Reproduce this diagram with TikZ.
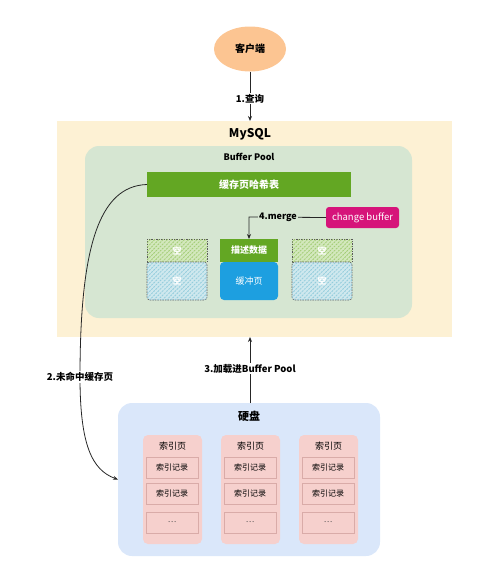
\documentclass[tikz,border=0pt]{standalone}
\usepackage{fontspec}
\setmainfont{Noto Sans CJK SC}
\usetikzlibrary{arrows.meta,patterns,patterns.meta,shapes.geometric}
\definecolor{peach}{HTML}{FCC592}
\definecolor{mysqlbg}{HTML}{FDF1D4}
\definecolor{poolbg}{HTML}{D6E6D2}
\definecolor{dgreen}{HTML}{63A723}
\definecolor{magenta}{HTML}{D6147A}
\definecolor{dblue}{HTML}{1D9FE0}
\definecolor{diskbg}{HTML}{DAE7FA}
\definecolor{pagebg}{HTML}{F6D0CD}
\definecolor{recline}{HTML}{D9ABA8}
\definecolor{hgreen}{HTML}{D3E8BD}
\definecolor{hgreenl}{HTML}{A3CD76}
\definecolor{hblue}{HTML}{CFE8EE}
\definecolor{hbluel}{HTML}{92CCDC}
\tikzset{
  x=1pt,y=-1pt,
  arr/.style={draw=black!85,line width=0.8pt,-{Stealth[length=5pt,width=4pt]}},
  lbl/.style={fill=white,inner sep=1pt,font=\fontsize{9.5}{10}\selectfont\bfseries},
  box/.style={anchor=north west,inner sep=0pt,outer sep=0pt},
  hatchg/.style={box,fill=hgreen,postaction={pattern={Lines[angle=45,distance=3pt,line width=0.9pt]},pattern color=hgreenl},draw=black!65,dash pattern=on 1.5pt off 1pt,line width=0.6pt},
  hatchb/.style={box,fill=hblue,postaction={pattern={Lines[angle=45,distance=3pt,line width=0.9pt]},pattern color=hbluel},draw=black!65,dash pattern=on 1.5pt off 1pt,line width=0.6pt,rounded corners=3pt},
  pagebox/.style={box,fill=pagebg,rounded corners=5pt,minimum width=59pt,minimum height=109pt},
  rec/.style={box,fill=pagebg,draw=recline,line width=0.5pt,minimum width=52pt,minimum height=21pt,font=\fontsize{8}{9}\selectfont},
}
\begin{document}
\begin{tikzpicture}
\useasboundingbox (0,0) rectangle (500,581);
% client
\node[ellipse,fill=peach,minimum width=72pt,minimum height=45pt,inner sep=0pt,font=\fontsize{10}{11}\selectfont\bfseries] (client) at (250,49) {客户端};
% MySQL
\node[box,fill=mysqlbg,minimum width=395pt,minimum height=216pt] (mysql) at (57,121) {};
\node[font=\fontsize{12}{13}\selectfont\bfseries] (mysqlt) at (250,134) {MySQL};
% buffer pool
\node[box,fill=poolbg,rounded corners=14pt,minimum width=327pt,minimum height=172pt] (pool) at (85,146) {};
\node[font=\fontsize{9}{10}\selectfont\bfseries] (poolt) at (249,157) {Buffer Pool};
\node[box,fill=dgreen,minimum width=204pt,minimum height=25pt] (hash) at (147,172) {};
\node[text=white,font=\fontsize{10}{11}\selectfont\bfseries] (hasht) at (hash.center) {缓存页哈希表};
\node[box,fill=magenta,rounded corners=3pt,minimum width=73pt,minimum height=21pt] (cb) at (326,207) {};
\node[text=white,font=\fontsize{9.5}{10}\selectfont] (cbt) at (cb.center) {change buffer};
% pages
\node[hatchg,minimum width=60pt,minimum height=23pt] (e1) at (147,239) {};
\node[hatchb,minimum width=60pt,minimum height=38pt] (e2) at (147,262) {};
\node[hatchg,minimum width=60pt,minimum height=23pt] (e3) at (292,239) {};
\node[hatchb,minimum width=60pt,minimum height=38pt] (e4) at (292,262) {};
\foreach \n in {e1,e2,e3,e4}{\node[text=white,font=\fontsize{9}{10}\selectfont\bfseries] at (\n.center) {空};}
\node[box,fill=dgreen,minimum width=58pt,minimum height=23pt] (desc) at (220,239) {};
\node[text=white,font=\fontsize{9}{10}\selectfont\bfseries] (desct) at (desc.center) {描述数据};
\node[box,fill=dblue,rounded corners=4pt,minimum width=58pt,minimum height=38pt] (buf) at (220,262) {};
\node[text=white,font=\fontsize{9}{10}\selectfont] (buft) at (buf.center) {缓冲页};
% disk
\node[box,fill=diskbg,rounded corners=14pt,minimum width=262pt,minimum height=153pt] (disk) at (118,403) {};
\node[font=\fontsize{11}{12}\selectfont\bfseries] (diskt) at (249,416) {硬盘};
\foreach \i/\x in {1/143,2/221,3/299}{
  \node[pagebox] (p\i) at (\x,435) {};
  \node[font=\fontsize{9}{10}\selectfont] (p\i t) at (\x+29.5,446) {索引页};
  \node[rec] (r\i a) at (\x+3,457) {索引记录};
  \node[rec] (r\i b) at (\x+3,483) {索引记录};
  \node[rec] (r\i c) at (\x+3,512) {\textcolor{black!70}{…}};
}
% connectors
\draw[arr] (client.south) -- node[lbl,pos=0.55] {1.查询} (mysql.north -| client.south);
\coordinate (m4) at (249,217);
\draw[arr] (cb.west) -- (m4) -- (desc.north -| m4);
\node[fill=poolbg,inner sep=1pt,font=\fontsize{9}{10}\selectfont\bfseries] (mergel) at (278,217) {4.merge};
\coordinate (c2) at (80,377);
\draw[arr] (hash.west) .. controls (98,186) and (80,250) .. (c2) .. controls (80,445) and (92,470) .. (disk.west);
\node[lbl] (l2) at (c2) {2.未命中缓存页};
\draw[arr] (disk.north -| 250,0) -- node[lbl,pos=0.52] {3.加载进Buffer Pool} (mysql.south -| 250,0);
\end{tikzpicture}
\end{document}
